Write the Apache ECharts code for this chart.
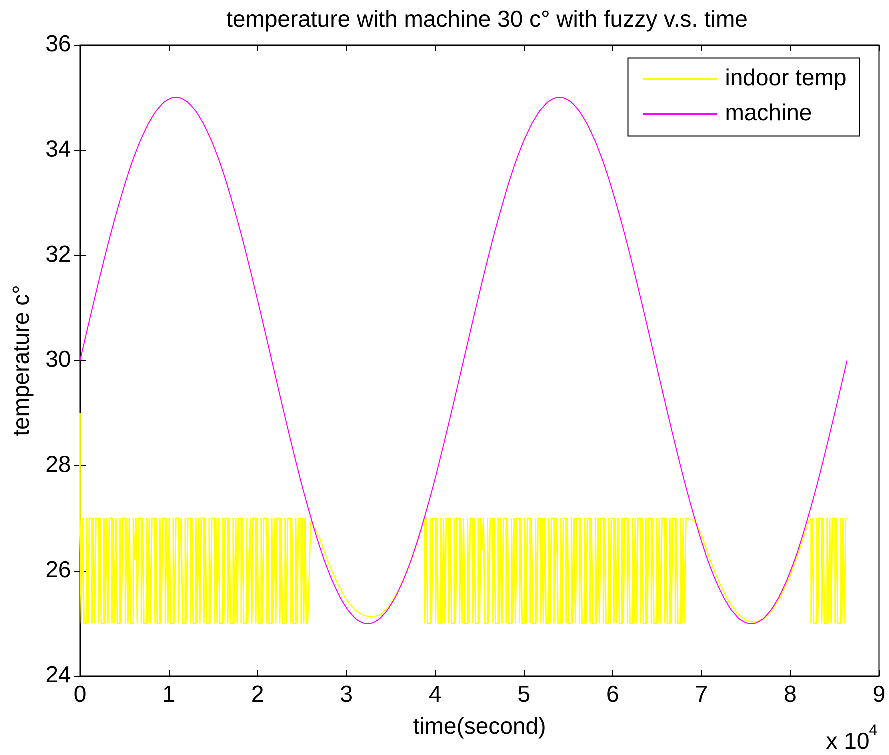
<!DOCTYPE html>
<html>
<head>
<meta charset="utf-8">
<script src="https://cdn.jsdelivr.net/npm/echarts@6/dist/echarts.min.js"></script>
<style>
  html, body { margin: 0; padding: 0; background: #fff; }
  #chart { width: 889px; height: 755px; }
</style>
</head>
<body>
<div id="chart"></div>
<script>
// Machine set-point temperature, sampled every 900 s over one day
const machineStep = 900;
const machineTemp = [
  30, 30.65, 31.29, 31.91, 32.5, 33.04, 33.54, 33.97, 34.33, 34.62, 34.83, 34.96,
  35, 34.96, 34.83, 34.62, 34.33, 33.97, 33.54, 33.04, 32.5, 31.91, 31.29, 30.65,
  30, 29.35, 28.71, 28.09, 27.5, 26.96, 26.46, 26.03, 25.67, 25.38, 25.17, 25.04,
  25, 25.04, 25.17, 25.38, 25.67, 26.03, 26.46, 26.96, 27.5, 28.09, 28.71, 29.35,
  30, 30.65, 31.29, 31.91, 32.5, 33.04, 33.54, 33.97, 34.33, 34.62, 34.83, 34.96,
  35, 34.96, 34.83, 34.62, 34.33, 33.97, 33.54, 33.04, 32.5, 31.91, 31.29, 30.65,
  30, 29.35, 28.71, 28.09, 27.5, 26.96, 26.46, 26.03, 25.67, 25.38, 25.17, 25.04,
  25, 25.04, 25.17, 25.38, 25.67, 26.03, 26.46, 26.96, 27.5, 28.09, 28.71, 29.35,
  30
];

// Indoor temperature: initial value, then fuzzy on/off switching bands
// (sampled every bandStep seconds) and stretches that follow the machine.
const indoorStart = [[0, 29]];
const bandStep = 150;

const bandAStart = 150;
const bandAValues = [
  27,25,27,25,25,27,25,27,27,25,27,25,27,27,25,27,25,25,27,25,
  27,25,27,27,25,27,25,27,25,25,27,25,27,27,25,27,25,27,25,25,
  27,26.2,27,25,27,27,25,27,25,25,27,25,27,25,27,27,25,27,25,25,
  27,25,27,27,25,27,25,27,25,25,27,25,27,27,25,26.5,27,25,25,27,
  25,27,27,25,27,25,25,27,25,27,25,27,27,25,27,25,25,27,25,27,
  27,25,27,25,27,25,25,27,25,27,27,25,27,25,25,27,25,27,25,27,
  27,25,27,25,25,27,25,26.3,27,25,27,27,25,27,25,25,27,25,27,27,
  25,27,25,25,27,25,27,25,27,27,25,27,25,25,27,25,27,27,25,27,
  25,25,27,25,27,27,25,27,25,27,25
];

const followA = [
  [26000, 26.95], [27000, 26.62], [28000, 26.15], [29000, 25.76],
  [30000, 25.45], [31000, 25.25], [32000, 25.15], [33000, 25.12],
  [34000, 25.18], [35000, 25.37], [36000, 25.67], [37000, 26.06],
  [38000, 26.55], [38700, 26.95]
];

const bandBStart = 38850;
const bandBValues = [
  27,25,27,25,25,27,25,27,27,25,27,25,25,27,25,27,25,27,27,25,
  27,25,25,27,25,27,27,25,27,25,27,25,25,27,25,27,27,25,27,25,
  25,27,25,27,26.4,27,25,25,27,25,27,27,25,27,25,25,27,25,27,25,
  27,27,25,27,25,25,27,25,27,25,27,27,25,27,25,25,27,25,27,27,
  25,27,25,25,27,25,27,27,25,27,25,27,25,25,27,25,27,27,25,26.2,
  27,25,25,27,25,27,27,25,27,25,25,27,25,27,25,27,27,25,27,25,
  25,27,25,27,27,25,27,25,25,27,25,27,25,27,27,25,27,25,25,27,
  25,27,27,25,27,25,27,25,25,27,25,27,27,25,27,25,25,27,25,27,
  25,27,27,25,27,25,25,27,25,27,27,25,27,25,25,27,25,27,25,27,
  27,25,27,25,25,27,25,27,27,25,27,25,25,27,25,27,25,27
];

const followB = [
  [69200, 26.95], [70000, 26.68], [71000, 26.2], [72000, 25.78],
  [73000, 25.45], [74000, 25.2], [75000, 25.06], [76000, 25.02],
  [77000, 25.09], [78000, 25.26], [79000, 25.54], [80000, 25.92],
  [81000, 26.38], [82100, 26.95]
];

const bandCStart = 82350;
const bandCValues = [
  27,25,27,25,25,27,25,27,27,25,27,25,25,27,25,27,25,27,27,25,
  27,25,25,27,25,27,25,27
];

const xTickScale = 10000;
const seriesNames = ['indoor temp', 'machine'];

function bandPoints(start, values) {
  return values.map((v, i) => [start + i * bandStep, v]);
}
function lastOf(arr) { return arr[arr.length - 1]; }

const bandA = [].concat(indoorStart, bandPoints(bandAStart, bandAValues));
const bandB = bandPoints(bandBStart, bandBValues);
const bandC = bandPoints(bandCStart, bandCValues);
const trackingData = [].concat(
  [lastOf(bandA)], followA, [bandB[0]], [[50000, null]],
  [lastOf(bandB)], followB, [bandC[0]]
);
const machineData = machineTemp.map((v, i) => [i * machineStep, v]);

const FONT = '"Liberation Sans", Arial, Helvetica, sans-serif';
const YELLOW = '#ffff00';
const MAGENTA = '#ff00ff';
// a high backing-store ratio keeps the sub-pixel switching steps from being merged
const chart = echarts.init(document.getElementById('chart'), null, {
  renderer: 'canvas', devicePixelRatio: 4
});

const tickStyle = { inside: true, length: 6, lineStyle: { color: '#000', width: 1 } };
const axisLineStyle = { show: true, lineStyle: { color: '#000', width: 1 } };

// one stepped line per switching band
function switchingSeries(data) {
  return {
    name: seriesNames[0], type: 'line', data: data, step: 'start',
    showSymbol: false, symbol: 'none', color: YELLOW,
    lineStyle: { color: YELLOW, width: 1.4 }
  };
}

chart.setOption({
  animation: false,
  backgroundColor: '#fff',
  title: {
    text: 'temperature with machine 30 c° with fuzzy v.s. time',
    left: 482,
    textAlign: 'center',
    top: 4,
    textStyle: { fontFamily: FONT, fontSize: 23, fontWeight: 'normal', color: '#000' }
  },
  legend: {
    data: seriesNames,
    orient: 'vertical',
    left: 628,
    top: 58,
    padding: [8, 13, 9, 15],
    itemGap: 9,
    itemWidth: 74,
    itemHeight: 2,
    icon: 'rect',
    backgroundColor: '#fff',
    borderColor: '#000',
    borderWidth: 1,
    borderRadius: 0,
    textStyle: { fontFamily: FONT, fontSize: 23, lineHeight: 26, color: '#000', padding: [0, 0, 0, 3] }
  },
  grid: {
    left: 80, right: 10, top: 45, bottom: 79,
    show: true, borderColor: '#000', borderWidth: 1, backgroundColor: '#fff'
  },
  xAxis: [{
    type: 'value', min: 0, max: 90000, interval: 10000,
    name: 'time(second)', nameLocation: 'middle', nameGap: 40,
    nameTextStyle: { fontFamily: FONT, fontSize: 23, color: '#000' },
    axisLine: axisLineStyle, axisTick: tickStyle, splitLine: { show: false },
    axisLabel: {
      fontFamily: FONT, fontSize: 23, color: '#000', margin: 8,
      formatter: v => String(v / xTickScale)
    }
  }, {
    type: 'value', min: 0, max: 90000, interval: 10000, position: 'top',
    axisLine: axisLineStyle, axisTick: tickStyle, splitLine: { show: false },
    axisLabel: { show: false }
  }],
  yAxis: [{
    type: 'value', min: 24, max: 36, interval: 2,
    name: 'temperature c°', nameLocation: 'middle', nameGap: 46,
    nameTextStyle: { fontFamily: FONT, fontSize: 23, color: '#000' },
    axisLine: axisLineStyle, axisTick: tickStyle, splitLine: { show: false },
    axisLabel: { fontFamily: FONT, fontSize: 23, color: '#000', margin: 9 }
  }, {
    type: 'value', min: 24, max: 36, interval: 2, position: 'right',
    axisLine: axisLineStyle, axisTick: tickStyle, splitLine: { show: false },
    axisLabel: { show: false }
  }],
  graphic: [
    { type: 'text', left: 826, top: 731,
      style: { text: 'x 10', fontFamily: FONT, fontSize: 23, fill: '#000' } },
    { type: 'text', left: 869, top: 723,
      style: { text: '4', fontFamily: FONT, fontSize: 15, fill: '#000' } }
  ],
  series: [
    switchingSeries(bandA),
    switchingSeries(bandB),
    switchingSeries(bandC),
    {
      name: seriesNames[0],
      type: 'line',
      data: trackingData,
      showSymbol: false,
      symbol: 'none',
      color: YELLOW,
      lineStyle: { color: YELLOW, width: 1.2 }
    }, {
      name: seriesNames[1],
      type: 'line',
      data: machineData,
      smooth: true,
      showSymbol: false,
      symbol: 'none',
      color: MAGENTA,
      lineStyle: { color: MAGENTA, width: 1 }
    }
  ]
});
</script>
</body>
</html>
